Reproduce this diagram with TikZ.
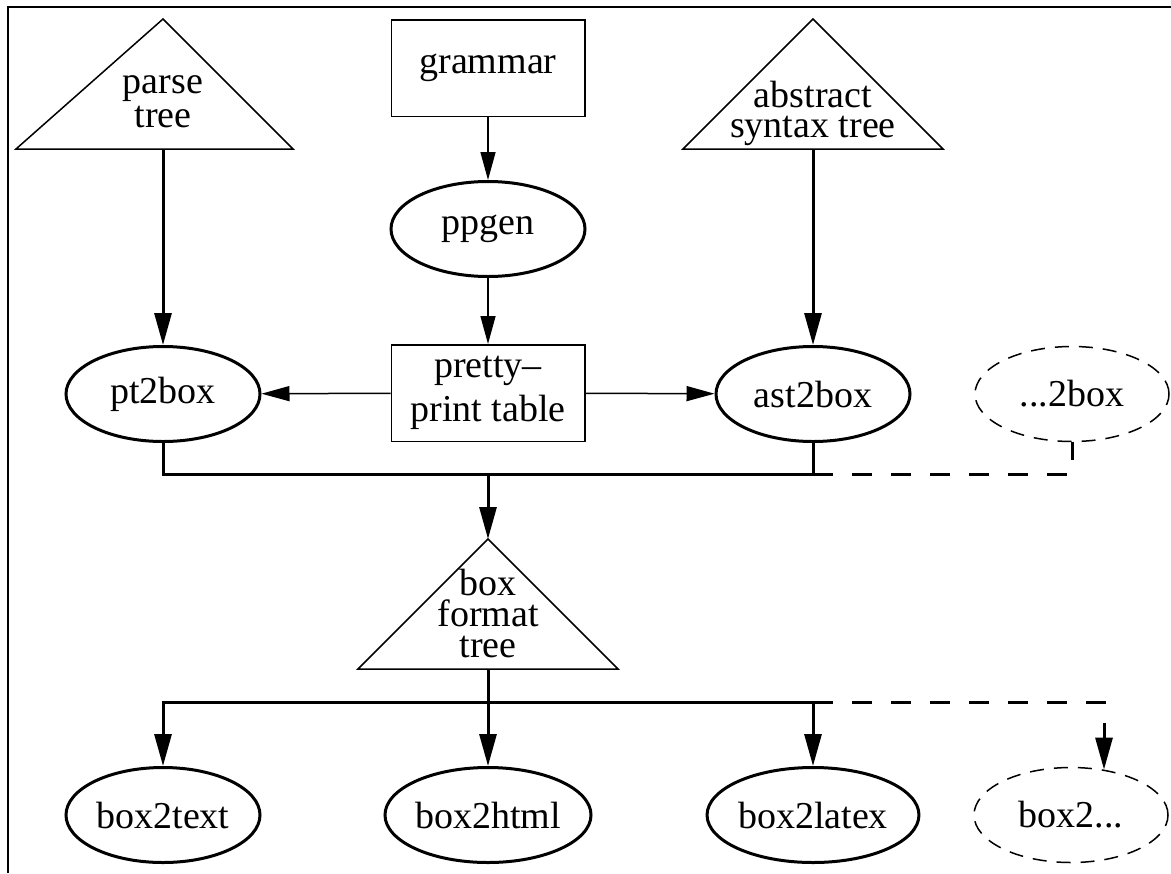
\documentclass[tikz,border=0pt]{standalone}
\usepackage{fontspec}
\setmainfont{Liberation Serif}
\usetikzlibrary{shapes.geometric,arrows.meta}

\tikzset{
  tool/.style={draw, ellipse, line width=1.5pt, minimum width=97pt, minimum height=47.5pt, inner sep=0pt},
  toolx/.style={tool, line width=0.75pt, dash pattern=on 7pt off 5pt},
  file/.style={draw, rectangle, line width=0.75pt, minimum width=96.75pt, minimum height=48.25pt, inner sep=0pt, align=center},
  tree/.style={line width=0.75pt},
  treetext/.style={align=center, inner sep=0pt},
  thinarrow/.style={line width=0.75pt, -{Triangle[length=14pt,width=7.5pt]}},
  boldarrow/.style={line width=1.5pt, -{Triangle[length=16pt,width=8.5pt]}},
  bus/.style={line width=1.5pt},
  busx/.style={line width=1.5pt, dash pattern=on 10pt off 9.5pt}
}

\begin{document}
\begin{tikzpicture}[x=0.5pt, y=-0.5pt, font=\fontsize{19}{19}\selectfont]
    \useasboundingbox (0,0) rectangle (1171,873);
    \draw[line width=1.3pt] (8,873) -- (8,7) -- (1171,7);

    % generator part
    \node[file] (grammar) at (488,68) {grammar};
    \node[tool] (ppgen) at (488,229) {ppgen};
    \node[file, font=\fontsize{19}{22}\selectfont] (table) at (488,393) {pretty--\\print table};
    \node[tool] (pt2box) at (163,394) {pt2box};
    \node[tool] (ast2box) at (813,394) {ast2box};
    \node[toolx] (any2box) at (1072,394) {...2box};

    % trees
    \draw[tree] (163,19) -- (293,149) -- (16,149) -- cycle;
    \coordinate (parse) at (163,149);
    \node[treetext, font=\fontsize{19}{17}\selectfont] (parsetext) at (163,102) {parse\\tree};
    \draw[tree] (813,19) -- (943,149) -- (683,149) -- cycle;
    \coordinate (ast) at (813,149);
    \node[treetext, font=\fontsize{19}{15}\selectfont] (asttext) at (813,113) {abstract\\syntax tree};
    \draw[tree] (488,539) -- (618,669) -- (358,669) -- cycle;
    \coordinate (boxtop) at (488,539);
    \coordinate (boxbase) at (488,669);
    \node[treetext, font=\fontsize{19}{15.5}\selectfont] (boxtext) at (488,613) {box\\format\\tree};

    % back ends
    \node[tool] (box2text) at (163,815) {box2text};
    \node[tool] (box2html) at (488,815) {box2html};
    \node[tool] (box2latex) at (813,815) {box2latex};
    \node[toolx] (box2any) at (1071,815) {box2...};

    \draw[thinarrow] (grammar) -- (ppgen);
    \draw[thinarrow] (ppgen) -- (table);
    \draw[thinarrow] (table) -- (pt2box);
    \draw[thinarrow] (table) -- (ast2box);
    \draw[boldarrow] (parse) -- (pt2box);
    \draw[boldarrow] (ast) -- (ast2box);

    \coordinate (join) at (488,474);
    \draw[bus] (pt2box.south) |- (join) -| (ast2box.south);
    \draw[busx] (ast2box.south |- join) -| (any2box.south);
    \draw[boldarrow] (join) -- (boxtop);

    \coordinate (split) at (488,702);
    \draw[boldarrow] (boxbase) -- (box2html);
    \draw[boldarrow] (split) -| (box2text);
    \draw[boldarrow] (split) -| (box2latex);
    \draw[busx, -{Triangle[length=16pt,width=8.5pt]}] (box2latex |- split) -| (box2any.54);
\end{tikzpicture}
\end{document}
